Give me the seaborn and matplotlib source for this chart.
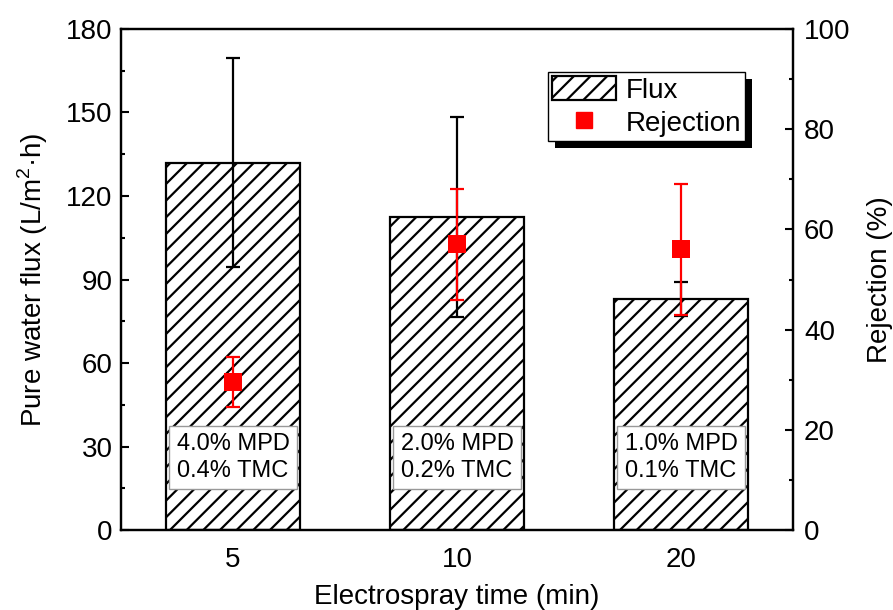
import seaborn as sns
import matplotlib.pyplot as plt
import pandas as pd
import numpy as np
from matplotlib.patches import Patch, Rectangle
from matplotlib.lines import Line2D
from matplotlib.ticker import MultipleLocator

# Datos
times          = ["5", "10", "20"]
flux           = [132, 112.5, 83]
flux_err       = [37.5, 36, 6]
rejection      = [29.5, 57, 56]
rejection_err  = [5, 11, 13]
box_labels     = ["4.0% MPD\n0.4% TMC", "2.0% MPD\n0.2% TMC", "1.0% MPD\n0.1% TMC"]

df = pd.DataFrame({"time": times, "flux": flux, "rejection": rejection})

sns.set_style("ticks")
plt.rcParams["font.family"] = ["Liberation Sans", "DejaVu Sans"]
plt.rcParams["hatch.linewidth"] = 1.6
plt.rcParams["mathtext.fontset"] = "custom"
plt.rcParams["mathtext.rm"] = "Liberation Sans"
plt.rcParams["text.color"] = "black"
plt.rcParams["axes.labelcolor"] = "black"
plt.rcParams["xtick.color"] = "black"
plt.rcParams["ytick.color"] = "black"

fig = plt.figure(figsize=(8.93, 6.10), dpi=100)
ax = fig.add_axes([0.1355, 0.131, 0.7525, 0.8215])

sns.barplot(data=df, x="time", y="flux", ax=ax, color="white", saturation=1,
            edgecolor="black", linewidth=1.6, hatch="//", width=0.6, errorbar=None)
ax.errorbar(np.arange(3), flux, yerr=flux_err, fmt="none", ecolor="black",
            elinewidth=1.6, capsize=5, capthick=1.6, zorder=3)

ax.set_xlim(-0.5, 2.5)
ax.set_ylim(0, 180)
ax.yaxis.set_major_locator(MultipleLocator(30))
ax.yaxis.set_minor_locator(MultipleLocator(15))
ax.set_xlabel("Electrospray time (min)", fontsize=20, labelpad=8)
ax.set_ylabel("Pure water flux (L/m$^2$·h)", fontsize=20, labelpad=12)
ax.tick_params(axis="both", which="both", direction="in", labelsize=20, width=1.5, pad=6)
ax.tick_params(axis="y", which="major", length=6)
ax.tick_params(axis="y", which="minor", length=3)
ax.tick_params(axis="x", pad=12)

for i, txt in enumerate(box_labels):
    ax.text(i, 26, txt, ha="center", va="center", fontsize=17, linespacing=1.3,
            bbox=dict(boxstyle="square,pad=0.3", facecolor="white", edgecolor="#999999", linewidth=1),
            zorder=4)

ax2 = ax.twinx()
ax2.errorbar(np.arange(3), rejection, yerr=rejection_err, fmt="none", ecolor="red",
             elinewidth=1.6, capsize=5, capthick=1.6, zorder=3)
sns.scatterplot(x=np.arange(3), y=rejection, ax=ax2, marker="s", s=150, color="red",
                edgecolor="red", linewidth=0, zorder=4)
ax2.set_ylim(0, 100)
ax2.yaxis.set_major_locator(MultipleLocator(20))
ax2.yaxis.set_minor_locator(MultipleLocator(10))
ax2.set_ylabel("Rejection (%)", fontsize=20, labelpad=12)
ax2.tick_params(axis="y", which="both", direction="in", labelsize=20, width=1.5, pad=8)
ax2.tick_params(axis="y", which="major", length=6)
ax2.tick_params(axis="y", which="minor", length=3)

for a in (ax, ax2):
    for s in a.spines.values():
        s.set_linewidth(1.6)
        s.set_color("black")
        s.set_visible(True)

handles = [Patch(facecolor="white", edgecolor="black", hatch="//", linewidth=1.6),
           Line2D([], [], marker="s", color="red", linestyle="none", markersize=12)]
leg = ax2.legend(handles, ["Flux", "Rejection"], loc="upper right",
                 bbox_to_anchor=(0.929, 0.914), fontsize=20, frameon=True,
                 fancybox=False, edgecolor="black", framealpha=1,
                 handlelength=2.3, handleheight=0.95, borderpad=0.15,
                 handletextpad=0.35, labelspacing=0.2, borderaxespad=0)
leg.get_frame().set_linewidth(1.0)

# sombra de la leyenda
fig.canvas.draw()
bb = leg.get_window_extent().transformed(fig.transFigure.inverted())
shadow = Rectangle((bb.x0 + 7 / 893, bb.y0 - 7 / 610), bb.width, bb.height,
                   transform=fig.transFigure, facecolor="black", edgecolor="none")
ax2.add_artist(shadow)
shadow.set_clip_on(False)
leg.set_zorder(10)
shadow.set_zorder(9)

plt.savefig("out.png", dpi=100)
